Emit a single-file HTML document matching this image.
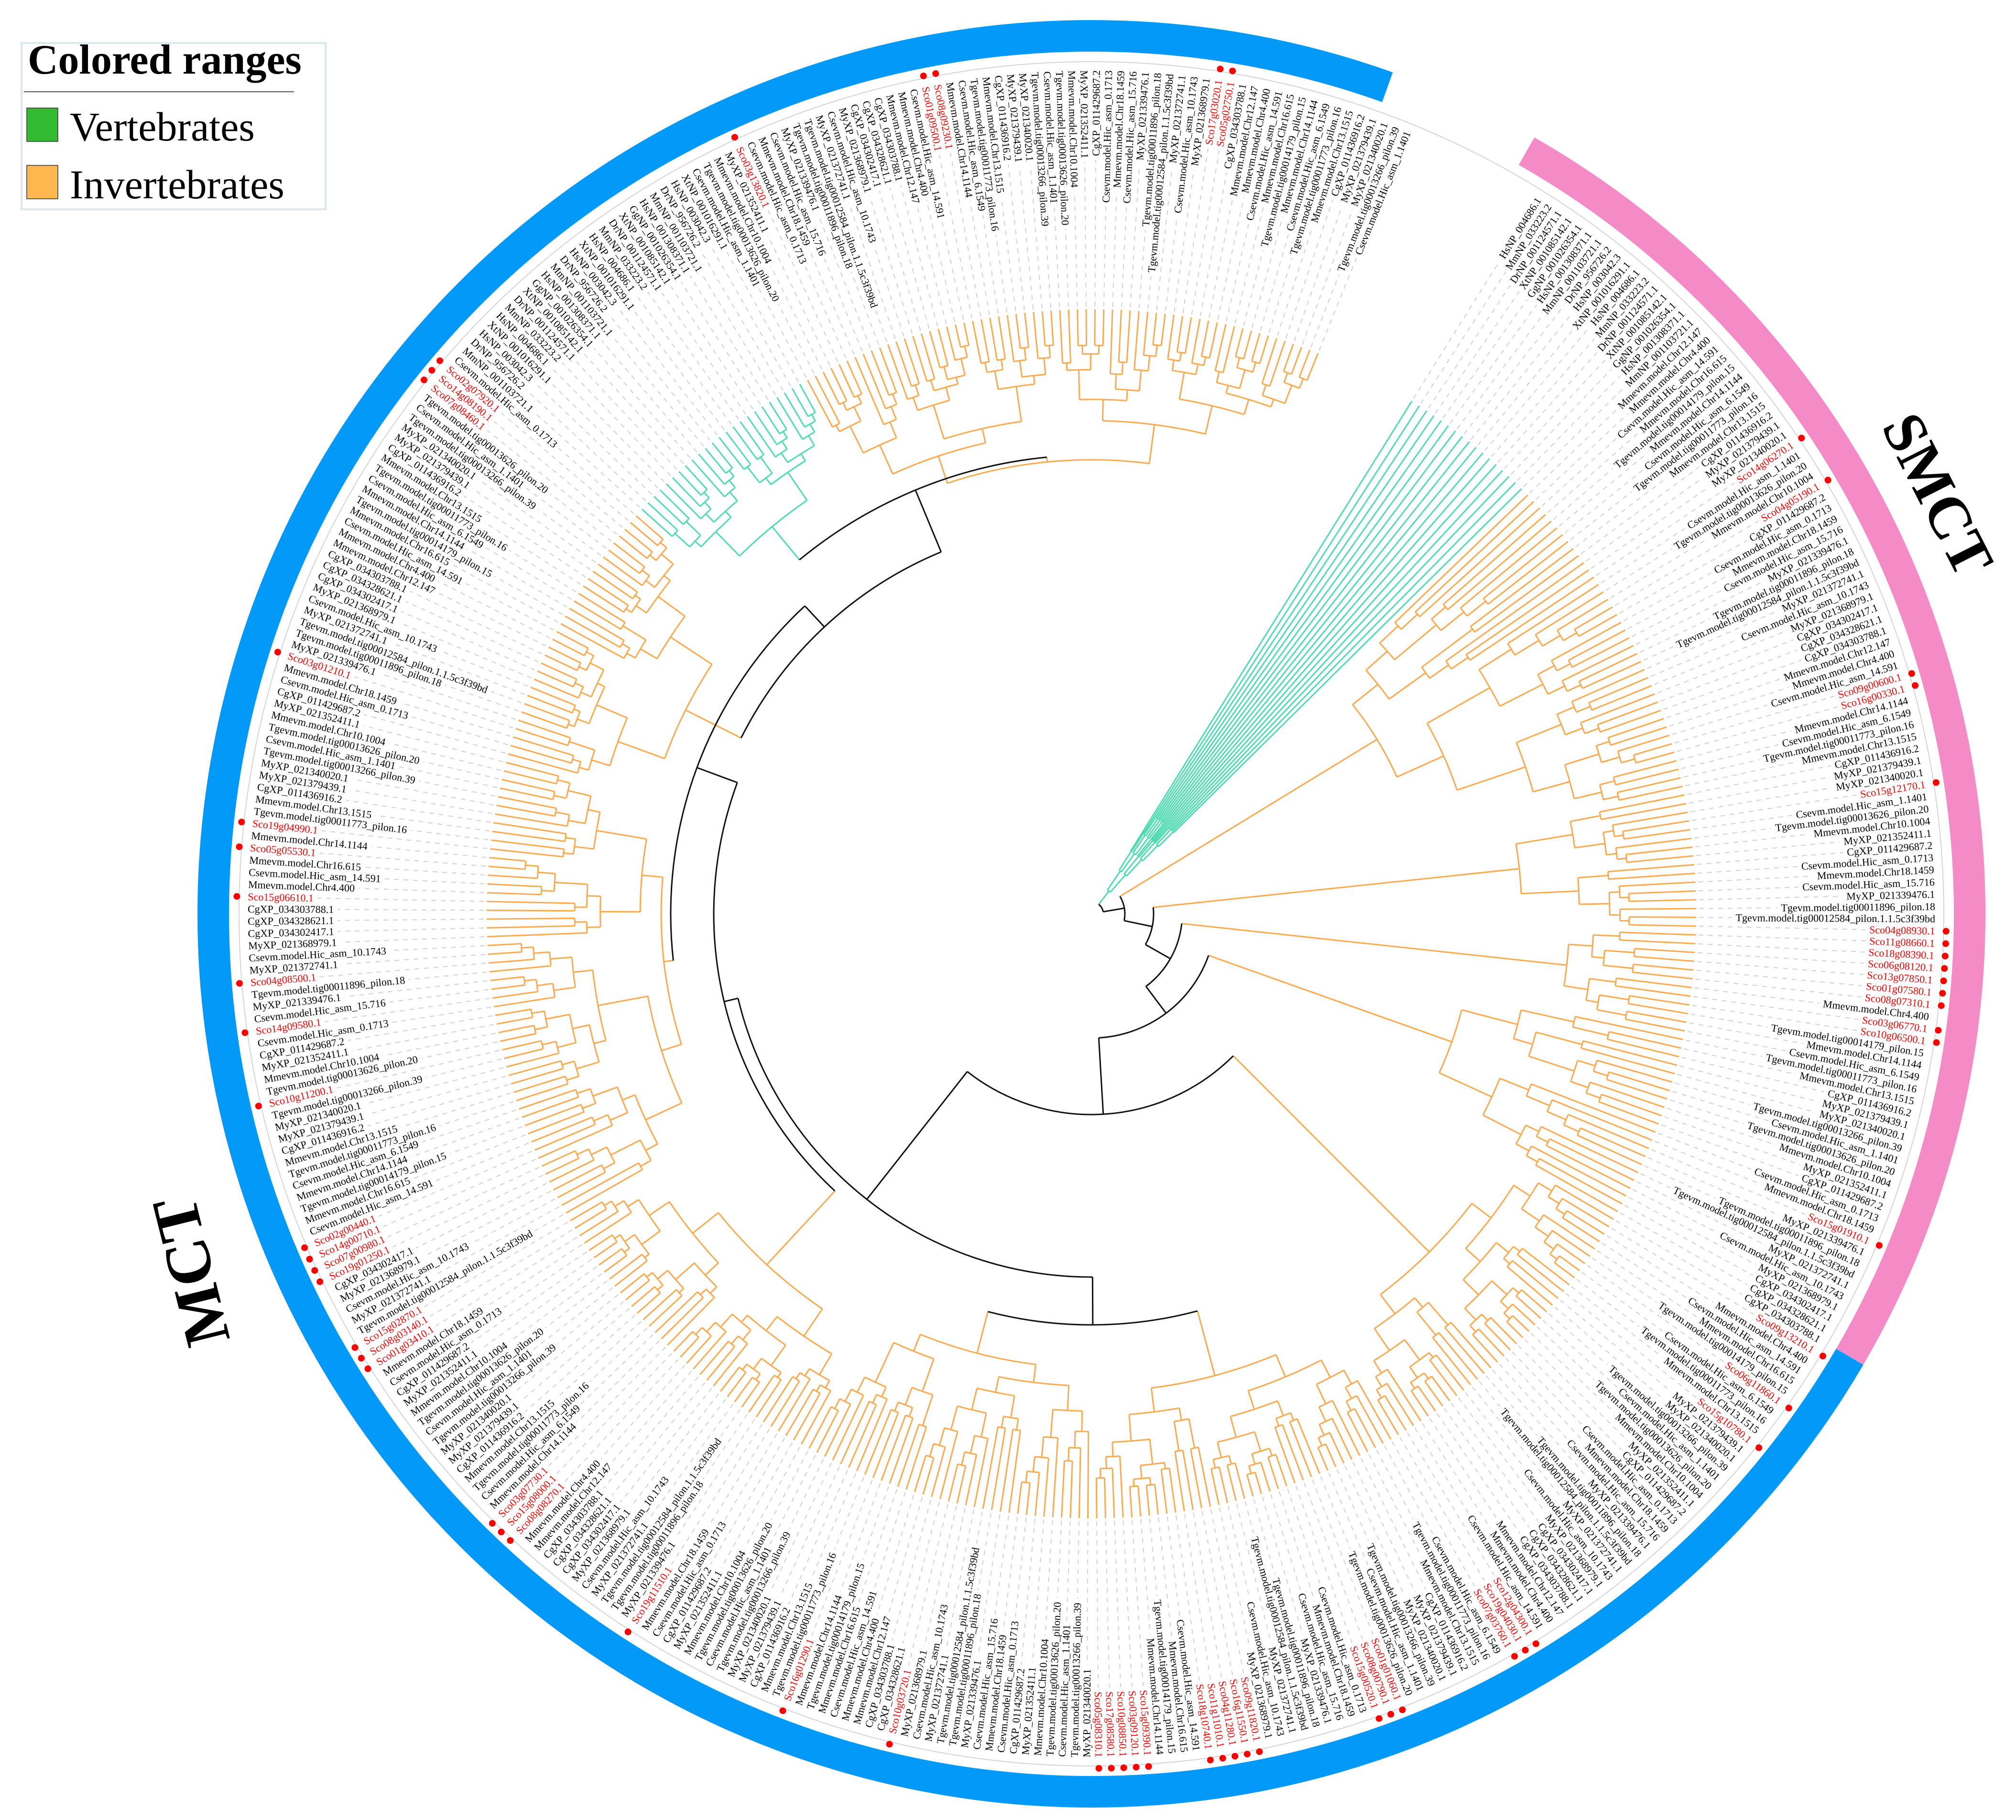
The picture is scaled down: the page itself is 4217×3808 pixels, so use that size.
<!DOCTYPE html>
<html><head><meta charset="utf-8"><style>
html,body{margin:0;padding:0;background:#fff;}
svg{display:block;}
text{font-family:"Liberation Serif",serif;}
</style></head><body>
<svg id="chart" width="4217" height="3808" viewBox="0 0 4217 3808" xmlns="http://www.w3.org/2000/svg">
  <g id="ring"></g>
  <g id="tree"></g>
  <g id="labels"></g>
  <g>
    <rect x="45" y="90" width="636" height="348" fill="#fff" stroke="#dde8ee" stroke-width="4"/>
    <text x="58" y="154" font-size="88" font-weight="bold">Colored ranges</text>
    <line x1="50" y1="192" x2="615" y2="192" stroke="#555" stroke-width="2"/>
    <rect x="56" y="226" width="65" height="70" fill="#33bb33" stroke="#333" stroke-width="1.5"/>
    <text x="146" y="294" font-size="86">Vertebrates</text>
    <rect x="56" y="346" width="65" height="70" fill="#ffb84d" stroke="#333" stroke-width="1.5"/>
    <text x="146" y="415" font-size="86">Invertebrates</text>
  </g>
  <text x="0" y="0" font-size="135" font-weight="bold" text-anchor="middle" dominant-baseline="central" transform="translate(400,2660) rotate(-104)">MCT</text>
  <text x="0" y="0" font-size="125" font-weight="bold" text-anchor="middle" dominant-baseline="central" transform="translate(4053,1035) rotate(63)">SMCT</text>
</svg>
<script>
// ---- data ----
const cladeSizes  = [17, 39, 16, 12, 22, 36, 36, 34, 38, 54, 32, 24, 61];
const cladeColors = ["green","orange","orange","orange","orange","orange","orange","orange","orange","orange","orange","green","orange"];
const cladeSplitR = [60, 700, 900, 1000, 800, 1000, 1000, 950, 1000, 900, 950, 1050, 950];
const redLeaves = [29,33,50,51,59,71,72,73,74,75,76,77,79,80,97,107,112,116,140,141,142,152,153,154,164,165,166,167,168,173,174,175,176,177,194,203,217,229,230,231,247,248,249,255,256,257,258,270,276,280,287,291,293,307,332,333,334,364,380,381,404,405];
const groupRanges = [["SMCT",-60.3,30.3],["MCT",30.3,289.7]];
const invPool = ["Csevm.model.Hic_asm_1.1401","MyXP_021368979.1","CgXP_011436916.2","Tgevm.model.tig00011896_pilon.18","Mmevm.model.Chr14.1144","Csevm.model.Hic_asm_0.1713","Mmevm.model.Chr4.400","Tgevm.model.tig00013626_pilon.20","CgXP_034302417.1","MyXP_021379439.1","Tgevm.model.tig00012584_pilon.1.1.5c3f39bd","Csevm.model.Hic_asm_6.1549","Mmevm.model.Chr18.1459","Csevm.model.Hic_asm_14.591","Mmevm.model.Chr10.1004","CgXP_034328621.1","MyXP_021340020.1","MyXP_021372741.1","Tgevm.model.tig00011773_pilon.16","Csevm.model.Hic_asm_15.716","Mmevm.model.Chr16.615","MyXP_021352411.1","CgXP_034303788.1","Tgevm.model.tig00013266_pilon.39","Csevm.model.Hic_asm_10.1743","Mmevm.model.Chr13.1515","MyXP_021339476.1","Tgevm.model.tig00014179_pilon.15","CgXP_011429687.2","Mmevm.model.Chr12.147"];
const vertPool = ["HsNP_004686.1","MmNP_033223.2","DrNP_001124571.1","XtNP_001085142.1","GgNP_001026354.1","HsNP_001308371.1","MmNP_001103721.1","DrNP_956726.2","HsNP_003042.3","XtNP_001016291.1"];
// ---- geometry ----
const CX = 2283, CY = 1912, TIP = 1265, LABR = 1765, A0 = -58, STEP = 350/420;
const COL = {green:"#4fdcb0", orange:"#fbaa50", black:"#111"};
const NS = "http://www.w3.org/2000/svg";
const N = cladeSizes.reduce((a,b)=>a+b,0);
const rad = d => d*Math.PI/180;
const ang = i => A0 + i*STEP;
const pt = (a,r) => [CX + r*Math.cos(rad(a)), CY + r*Math.sin(rad(a))];
const leafColor = [];
const cladeStart = [];
(function(){let s=0; cladeSizes.forEach((n,c)=>{cladeStart.push(s); for(let i=0;i<n;i++) leafColor[s+i]=cladeColors[c]; s+=n;});})();

function build(s,e,r,depth,color){
  if(s===e) return {r:TIP, a:ang(s), color, leaf:s};
  const n=e-s+1;
  const fr=[0.5,0.35,0.62,0.45][(s+depth)%4];
  let k=Math.max(1,Math.min(n-1,Math.floor(n*fr)));
  const mk=(a,b)=>{
    if(a===b) return {r:TIP, a:ang(a), color, leaf:a};
    const f=(color==="green"&&r<200)?0.04:(0.12+0.07*((a*3+b+depth)%4));
    return build(a,b,r+(TIP-r)*f,depth+1,color);
  };
  const L=mk(s,s+k-1), R=mk(s+k,e);
  return {r, a:(L.a+R.a)/2, color, kids:[L,R]};
}
function clade(c){return build(cladeStart[c], cladeStart[c]+cladeSizes[c]-1, cladeSplitR[c], 0, cladeColors[c]);}
function Nd(r,kids){
  const ks=kids.map(k=>typeof k==="number"?clade(k):k);
  return {r, a:(ks[0].a+ks[ks.length-1].a)/2, color:"black", kids:ks};
}
const root = Nd(25,[0, Nd(70,[1, Nd(130,[2, Nd(190,[3, Nd(260,[4, Nd(420,[5, Nd(760,[ Nd(860,[6,7]), Nd(790,[8, Nd(880,[9, Nd(820,[10, Nd(960,[11,12])])])])])])])])])])]);

const paths = {green:"", orange:"", black:""};
function arc(a1,a2,r){
  const p1=pt(a1,r), p2=pt(a2,r);
  const large=(a2-a1)>180?1:0;
  return `M${p1[0].toFixed(1)},${p1[1].toFixed(1)}A${r},${r} 0 ${large} 1 ${p2[0].toFixed(1)},${p2[1].toFixed(1)}`;
}
function draw(node,parentR){
  if(parentR!==null){
    const p1=pt(node.a,parentR), p2=pt(node.a,node.r);
    paths[node.color]+=`M${p1[0].toFixed(1)},${p1[1].toFixed(1)}L${p2[0].toFixed(1)},${p2[1].toFixed(1)}`;
  }
  if(node.kids){
    paths[node.color]+=arc(node.kids[0].a,node.kids[node.kids.length-1].a,node.r);
    node.kids.forEach(k=>draw(k,node.r));
  }
}
draw(root,null);
const tree=document.getElementById("tree");
["orange","green","black"].forEach(c=>{
  const p=document.createElementNS(NS,"path");
  p.setAttribute("d",paths[c]);
  p.setAttribute("fill","none");
  p.setAttribute("stroke",COL[c]);
  p.setAttribute("stroke-width","3");
  
  
  tree.appendChild(p);
});

// ring
const ring=document.getElementById("ring");
groupRanges.forEach(g=>{
  const p=document.createElementNS(NS,"path");
  p.setAttribute("d",arc(g[1],g[2],1837));
  p.setAttribute("fill","none");
  p.setAttribute("stroke",g[0]==="SMCT"?"#f48bc6":"#0399f8");
  p.setAttribute("stroke-width","66");
  
  
  ring.appendChild(p);
});
const gc=document.createElementNS(NS,"circle");
gc.setAttribute("cx",CX);gc.setAttribute("cy",CY);gc.setAttribute("r",1783);
gc.setAttribute("fill","none");gc.setAttribute("stroke","#d4d4d4");gc.setAttribute("stroke-width","2");


ring.appendChild(gc);

// labels
const labels=document.getElementById("labels");
const redSet=new Set(redLeaves);
const pad=(n,w)=>String(n).padStart(w,"0");
for(let i=0;i<N;i++){
  const a=ang(i);
  const isRed=redSet.has(i);
  let name;
  if(isRed) name="Sco"+pad(((i*7)%19)+1,2)+"g"+pad((((i*1373)%1400)+10)*10,5)+".1";
  else if(leafColor[i]==="green") name=vertPool[i%vertPool.length];
  else name=invPool[(i*7)%invPool.length];
  const right=Math.cos(rad(a))>=0;
  const p=pt(a,LABR);
  const t=document.createElementNS(NS,"text");
  t.textContent=name;
  t.setAttribute("font-size","22");
  t.setAttribute("fill",isRed?"#ff0000":"#000");
  t.setAttribute("dominant-baseline","central");
  t.setAttribute("text-anchor",right?"end":"start");
  t.setAttribute("transform",`translate(${p[0].toFixed(1)},${p[1].toFixed(1)}) rotate(${(right?a:a+180).toFixed(2)})`);
  
  
  labels.appendChild(t);
  const len=t.getComputedTextLength()||200;
  const q1=pt(a,TIP+6), q2=pt(a,LABR-len-8);
  const l=document.createElementNS(NS,"line");
  l.setAttribute("x1",q1[0].toFixed(1));l.setAttribute("y1",q1[1].toFixed(1));
  l.setAttribute("x2",q2[0].toFixed(1));l.setAttribute("y2",q2[1].toFixed(1));
  l.setAttribute("stroke","#d0d0d0");l.setAttribute("stroke-width","2");l.setAttribute("stroke-dasharray","10 10");
  
  
  labels.appendChild(l);
  if(isRed){
    const d=pt(a,1788);
    const c=document.createElementNS(NS,"circle");
    c.setAttribute("cx",d[0].toFixed(1));c.setAttribute("cy",d[1].toFixed(1));c.setAttribute("r","7");c.setAttribute("fill","#ff0000");
    
    
    labels.appendChild(c);
  }
}
</script>
</body></html>
